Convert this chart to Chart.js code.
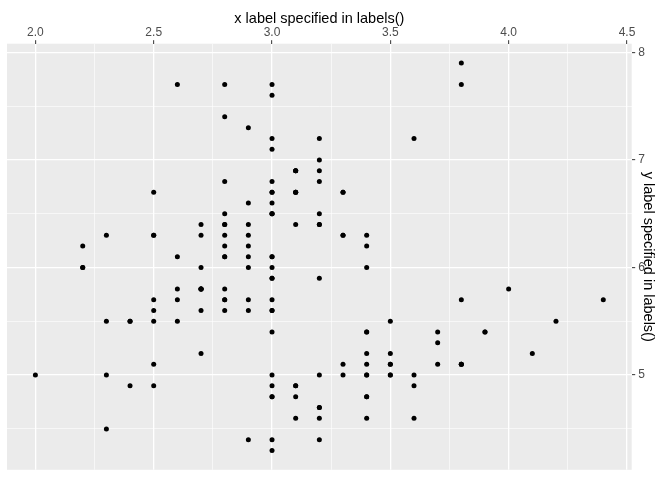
<!DOCTYPE html>
<html>
<head>
<meta charset="utf-8">
<script src="https://cdn.jsdelivr.net/npm/chart.js@4"></script>
<style>
  html, body { margin: 0; padding: 0; background: #ffffff; }
  #wrap { width: 672px; height: 480px; }
</style>
</head>
<body>
<div id="wrap"><canvas id="myChart"></canvas></div>
<script>
// iris: Sepal.Width (x) against Sepal.Length (y)
var sepalWidth = [
  3.5, 3.0, 3.2, 3.1, 3.6, 3.9, 3.4, 3.4, 2.9, 3.1, 3.7, 3.4, 3.0, 3.0, 4.0, 4.4, 3.9, 3.5, 3.8, 3.8,
  3.4, 3.7, 3.6, 3.3, 3.4, 3.0, 3.4, 3.5, 3.4, 3.2, 3.1, 3.4, 4.1, 4.2, 3.1, 3.2, 3.5, 3.6, 3.0, 3.4,
  3.5, 2.3, 3.2, 3.5, 3.8, 3.0, 3.8, 3.2, 3.7, 3.3,
  3.2, 3.2, 3.1, 2.3, 2.8, 2.8, 3.3, 2.4, 2.9, 2.7, 2.0, 3.0, 2.2, 2.9, 2.9, 3.1, 3.0, 2.7, 2.2, 2.5,
  3.2, 2.8, 2.5, 2.8, 2.9, 3.0, 2.8, 3.0, 2.9, 2.6, 2.4, 2.4, 2.7, 2.7, 3.0, 3.4, 3.1, 2.3, 3.0, 2.5,
  2.6, 3.0, 2.6, 2.3, 2.7, 3.0, 2.9, 2.9, 2.5, 2.8,
  3.3, 2.7, 3.0, 2.9, 3.0, 3.0, 2.5, 2.9, 2.5, 3.6, 3.2, 2.7, 3.0, 2.5, 2.8, 3.2, 3.0, 3.8, 2.6, 2.2,
  3.2, 2.8, 2.8, 2.7, 3.3, 3.2, 2.8, 3.0, 2.8, 3.0, 2.8, 3.8, 2.8, 2.8, 2.6, 3.0, 3.4, 3.1, 3.0, 3.1,
  3.1, 3.1, 2.7, 3.2, 3.3, 3.0, 2.5, 3.0, 3.4, 3.0
];
var sepalLength = [
  5.1, 4.9, 4.7, 4.6, 5.0, 5.4, 4.6, 5.0, 4.4, 4.9, 5.4, 4.8, 4.8, 4.3, 5.8, 5.7, 5.4, 5.1, 5.7, 5.1,
  5.4, 5.1, 4.6, 5.1, 4.8, 5.0, 5.0, 5.2, 5.2, 4.7, 4.8, 5.4, 5.2, 5.5, 4.9, 5.0, 5.5, 4.9, 4.4, 5.1,
  5.0, 4.5, 4.4, 5.0, 5.1, 4.8, 5.1, 4.6, 5.3, 5.0,
  7.0, 6.4, 6.9, 5.5, 6.5, 5.7, 6.3, 4.9, 6.6, 5.2, 5.0, 5.9, 6.0, 6.1, 5.6, 6.7, 5.6, 5.8, 6.2, 5.6,
  5.9, 6.1, 6.3, 6.1, 6.4, 6.6, 6.8, 6.7, 6.0, 5.7, 5.5, 5.5, 5.8, 6.0, 5.4, 6.0, 6.7, 6.3, 5.6, 5.5,
  5.5, 6.1, 5.8, 5.0, 5.6, 5.7, 5.7, 6.2, 5.1, 5.7,
  6.3, 5.8, 7.1, 6.3, 6.5, 7.6, 4.9, 7.3, 6.7, 7.2, 6.5, 6.4, 6.8, 5.7, 5.8, 6.4, 6.5, 7.7, 7.7, 6.0,
  6.9, 5.6, 7.7, 6.3, 6.7, 7.2, 6.2, 6.1, 6.4, 7.2, 7.4, 7.9, 6.4, 6.3, 6.1, 7.7, 6.3, 6.4, 6.0, 6.9,
  6.7, 6.9, 5.8, 6.8, 6.7, 6.7, 6.3, 6.5, 6.2, 5.9
];

var xTickLabels = ['2.0', '2.5', '3.0', '3.5', '4.0', '4.5'];
var yTickLabels = ['5', '6', '7', '8'];
var xTitle = 'x label specified in labels()';
var yTitle = 'y label specified in labels()';

var points = sepalWidth.map(function (w, i) { return { x: w, y: sepalLength[i] }; });

function isStep(v, step) {
  var r = v / step;
  return Math.abs(r - Math.round(r)) < 1e-6;
}
function findLabel(list, v) {
  for (var i = 0; i < list.length; i++) {
    if (Math.abs(parseFloat(list[i]) - v) < 1e-6) return list[i];
  }
  return '';
}

// grey panel behind the plot, like ggplot's theme_grey
var panelBg = {
  id: 'panelBg',
  beforeDraw: function (chart) {
    var a = chart.chartArea, c = chart.ctx;
    c.save();
    c.fillStyle = '#EBEBEB';
    c.fillRect(a.left, a.top, a.right - a.left, a.bottom - a.top);
    c.restore();
  }
};

function gridColor(major, minor) {
  return function (ctx) {
    if (!ctx.tick) return 'rgba(0,0,0,0)';
    return isStep(ctx.tick.value, major) ? '#FFFFFF' : (isStep(ctx.tick.value, minor) ? '#FFFFFF' : 'rgba(0,0,0,0)');
  };
}
function gridWidth(major) {
  return function (ctx) {
    if (!ctx.tick) return 0;
    return isStep(ctx.tick.value, major) ? 1.3 : 0.6;
  };
}
function tickColor(major) {
  return function (ctx) {
    if (!ctx.tick) return 'rgba(0,0,0,0)';
    return isStep(ctx.tick.value, major) ? '#333333' : 'rgba(0,0,0,0)';
  };
}

var ctx = document.getElementById('myChart').getContext('2d');
var myChart = new Chart(ctx, {
  type: 'scatter',
  data: {
    datasets: [{
      data: points,
      backgroundColor: '#000000',
      borderWidth: 0,
      pointRadius: 2.5,
      pointHoverRadius: 2.5
    }]
  },
  plugins: [panelBg],
  options: {
    responsive: true,
    maintainAspectRatio: false,
    animation: false,
    events: [],
    layout: { padding: { left: 7, right: 0, top: 0, bottom: 8 } },
    plugins: {
      legend: { display: false },
      tooltip: { enabled: false }
    },
    scales: {
      x: {
        type: 'linear',
        position: 'top',
        min: 1.88,
        max: 4.52,
        border: { display: false },
        grid: {
          color: gridColor(0.5, 0.25),
          lineWidth: gridWidth(0.5),
          tickColor: tickColor(0.5),
          tickWidth: 1,
          tickLength: 3.5
        },
        ticks: {
          stepSize: 0.25,
          includeBounds: false,
          autoSkip: false,
          maxRotation: 0,
          padding: 0,
          color: '#4D4D4D',
          font: { family: '"Liberation Sans", Arial, sans-serif', size: 12 },
          callback: function (v) { return findLabel(xTickLabels, v); }
        },
        title: {
          display: true,
          text: xTitle,
          color: '#000000',
          font: { family: '"Liberation Sans", Arial, sans-serif', size: 14.5 },
          padding: { top: 10, bottom: 0 }
        },
        afterFit: function (scale) { scale.height = 43.7; }
      },
      y: {
        type: 'linear',
        position: 'right',
        min: 4.12,
        max: 8.08,
        border: { display: false },
        grid: {
          color: gridColor(1, 0.5),
          lineWidth: gridWidth(1),
          tickColor: tickColor(1),
          tickWidth: 1,
          tickLength: 3.5
        },
        ticks: {
          stepSize: 0.5,
          includeBounds: false,
          autoSkip: false,
          padding: 3,
          color: '#4D4D4D',
          font: { family: '"Liberation Sans", Arial, sans-serif', size: 12 },
          callback: function (v) { return findLabel(yTickLabels, v); }
        },
        title: {
          display: true,
          text: yTitle,
          color: '#000000',
          font: { family: '"Liberation Sans", Arial, sans-serif', size: 14.5 },
          padding: { top: 15, bottom: 0 }
        },
        afterFit: function (scale) { scale.width = 40.3; }
      }
    }
  }
});
</script>
</body>
</html>
